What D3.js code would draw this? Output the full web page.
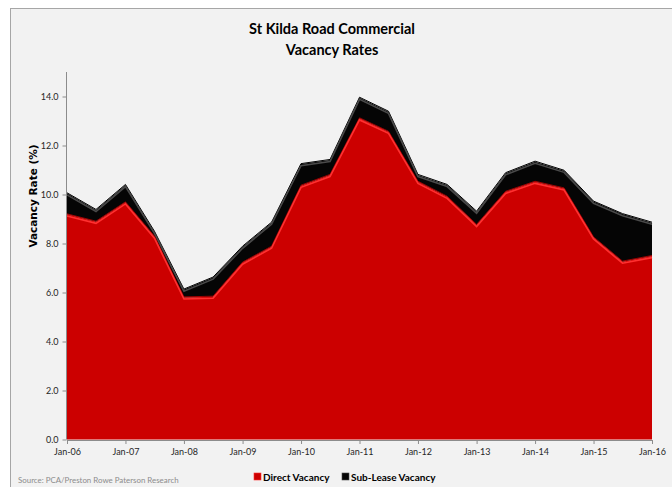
<!DOCTYPE html>
<html>
<head>
<meta charset="utf-8">
<script src="https://cdn.jsdelivr.net/npm/d3@7/dist/d3.min.js"></script>
<style>
  html, body { margin: 0; padding: 0; background: #ffffff; }
  svg { display: block; }
</style>
</head>
<body>
<svg id="chart" width="672" height="487"></svg>
<script>
// Half-yearly observations, St Kilda Road commercial office vacancy (%)
const periods = ["Jan-06","Jul-06","Jan-07","Jul-07","Jan-08","Jul-08","Jan-09","Jul-09",
                 "Jan-10","Jul-10","Jan-11","Jul-11","Jan-12","Jul-12","Jan-13","Jul-13",
                 "Jan-14","Jul-14","Jan-15","Jul-15","Jan-16"];
const directVacancy = [9.19, 8.89, 9.68, 8.28, 5.80, 5.83, 7.22, 7.87, 10.36, 10.80, 13.11,
                       12.56, 10.52, 9.91, 8.76, 10.11, 10.52, 10.25, 8.25, 7.26, 7.49];
const subLeaseVacancy = [0.86, 0.48, 0.71, 0.20, 0.32, 0.78, 0.65, 0.98, 0.88, 0.61, 0.84,
                         0.82, 0.28, 0.48, 0.54, 0.76, 0.82, 0.72, 1.46, 1.94, 1.36];
const yTicks = [0, 2, 4, 6, 8, 10, 12, 14];
const xTickLabels = ["Jan-06","Jan-07","Jan-08","Jan-09","Jan-10","Jan-11","Jan-12",
                     "Jan-13","Jan-14","Jan-15","Jan-16"];
const seriesNames = ["Direct Vacancy", "Sub-Lease Vacancy"];

const parse = d3.timeParse("%b-%y");
const fmt = d3.timeFormat("%b-%y");
const rows = periods.map((p, i) => ({
  date: parse(p), direct: directVacancy[i], sublease: subLeaseVacancy[i]
}));

const svg = d3.select("#chart");

// chart frame
svg.append("rect").attr("x", 10.5).attr("y", 8.5).attr("width", 700).attr("height", 500)
  .attr("fill", "#f2f2f2").attr("stroke", "#a6a6a6").attr("stroke-width", 1);

const x = d3.scaleTime()
  .domain([parse(periods[0]), parse(periods[periods.length - 1])])
  .range([67, 652]);
const y = d3.scaleLinear().domain([0, 15]).range([439.5, 72]);

const stack = d3.stack().keys(["direct", "sublease"]);
const layers = stack(rows);

const area = d3.area()
  .x(d => x(d.data.date))
  .y0(d => y(d[0]))
  .y1(d => y(d[1]));
const topLine = d3.line()
  .x(d => x(d.data.date))
  .y(d => y(d[1]));

const fills = ["#cc0000", "#050505"];
const edges = ["#ff3030", "#4a4a4a"];
const shades = ["#a00000", "#000000"];

const g = svg.append("g");
// draw upper layer first so the lower one sits over its base
[1, 0].forEach(i => {
  g.append("path").datum(layers[i]).attr("d", area).attr("fill", fills[i]);
});
[1, 0].forEach(i => {
  const L = layers[i];
  // bevel: dark edge, then highlight just inside the top edge
  g.append("path").datum(L).attr("d", topLine)
    .attr("fill", "none").attr("stroke", shades[i]).attr("stroke-width", 1)
    .attr("transform", "translate(0,-0.5)");
  g.append("path").datum(L).attr("d", topLine)
    .attr("fill", "none").attr("stroke", edges[i]).attr("stroke-width", 1.6)
    .attr("transform", "translate(0,1.6)");
});

// y axis
const yAxis = d3.axisLeft(y).tickValues(yTicks).tickFormat(d3.format(".1f"))
  .tickSizeOuter(0).tickSize(4).tickPadding(4);
const ya = svg.append("g").attr("transform", "translate(66.5,0)").call(yAxis);
ya.select(".domain").attr("stroke", "#8c8c8c").attr("d", `M0,${y(15)}V${y(0)}`);
ya.selectAll(".tick line").attr("stroke", "#8c8c8c");
ya.selectAll(".tick text").attr("fill", "#262626")
  .style("font-family", "Lato, 'Open Sans', sans-serif").style("font-size", "9px");

// x axis
const xAxis = d3.axisBottom(x)
  .tickValues(xTickLabels.map(parse))
  .tickFormat(fmt).tickSizeOuter(0).tickSize(4).tickPadding(5);
const xa = svg.append("g").attr("transform", "translate(0,440)").call(xAxis);
xa.select(".domain").attr("stroke", "#8c8c8c");
xa.selectAll(".tick line").attr("stroke", "#8c8c8c");
xa.selectAll(".tick text").attr("fill", "#262626")
  .style("font-family", "Lato, 'Open Sans', sans-serif").style("font-size", "9px");

// title
const title = svg.append("text").attr("text-anchor", "middle")
  .style("font-family", "Lato, 'Open Sans', sans-serif").style("font-weight", "bold")
  .style("font-size", "14.5px").attr("fill", "#000");
title.append("tspan").attr("x", 332).attr("y", 34).text("St Kilda Road Commercial");
title.append("tspan").attr("x", 332).attr("y", 55).text("Vacancy Rates");

// y axis title
svg.append("text")
  .attr("transform", "translate(37,196) rotate(-90)")
  .attr("text-anchor", "middle")
  .style("font-family", "'DejaVu Sans', Verdana, sans-serif").style("font-weight", "bold")
  .style("font-size", "10.5px").attr("fill", "#000")
  .text("Vacancy Rate (%)");

// legend
const legendX = [254, 342];
seriesNames.forEach((name, i) => {
  const lg = svg.append("g").attr("transform", `translate(${legendX[i]},473)`);
  lg.append("rect").attr("width", 7).attr("height", 7).attr("fill", fills[i])
    .attr("stroke", edges[i]).attr("stroke-width", 0.6);
  lg.append("text").attr("x", 9).attr("y", 7.5)
    .style("font-family", "Lato, 'Open Sans', sans-serif").style("font-weight", "bold")
    .style("font-size", "10px").attr("fill", "#000").text(name);
});

// source note
svg.append("text").attr("x", 18).attr("y", 483)
  .style("font-family", "Lato, 'Open Sans', sans-serif").style("font-size", "7.9px")
  .attr("fill", "#8c8c8c").text("Source: PCA/Preston Rowe Paterson Research");
</script>
</body>
</html>
